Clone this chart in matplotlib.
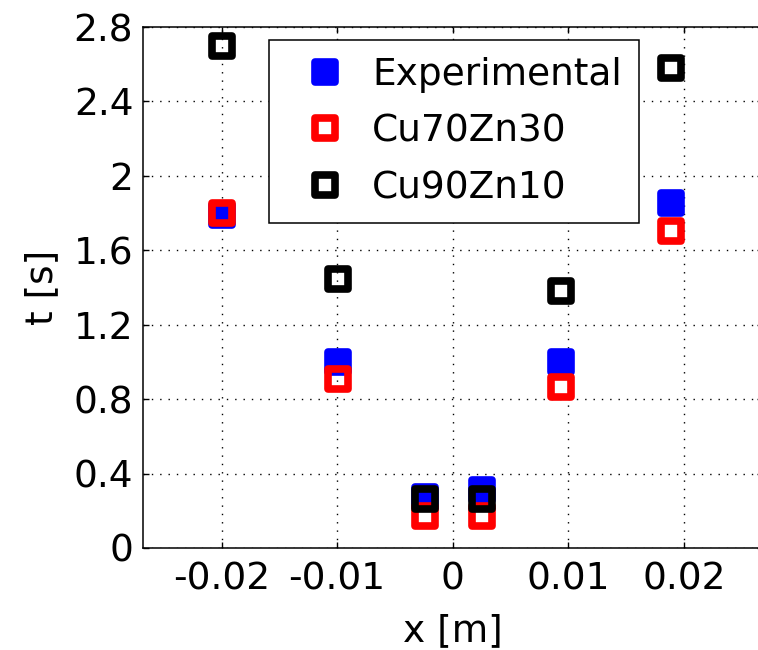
import matplotlib
matplotlib.use("Agg")
import matplotlib.pyplot as plt
from matplotlib.markers import MarkerStyle

plt.rcParams['font.family'] = ['DejaVu Sans']

x_pos = [-0.02, -0.0099, -0.0024, 0.0025, 0.0094, 0.0189]
t_experimental = [1.79, 1.00, 0.274, 0.312, 1.00, 1.854]
t_cu70zn30 = [1.80, 0.91, 0.172, 0.172, 0.865, 1.706]
t_cu90zn10 = [2.70, 1.448, 0.266, 0.266, 1.381, 2.577]

series_labels = ['Experimental', 'Cu70Zn30', 'Cu90Zn10']
x_ticks = [-0.02, -0.01, 0, 0.01, 0.02]
x_ticklabels = ['-0.02', '-0.01', '0', '0.01', '0.02']
y_ticks = [0, 0.4, 0.8, 1.2, 1.6, 2.0, 2.4, 2.8]
y_ticklabels = ['0', '0.4', '0.8', '1.2', '1.6', '2', '2.4', '2.8']

W, H = 758, 650
fig = plt.figure(figsize=(W / 100, H / 100), dpi=100)
ax = fig.add_axes([143 / W, 102 / H, (762.5 - 143) / W, 521 / H])

ms = 14.5
mew = 5.5
mk = MarkerStyle('s', joinstyle='round')

ax.plot(x_pos, t_experimental, linestyle='none', marker=mk, markersize=ms,
        markeredgewidth=mew, markerfacecolor='#0000ff', markeredgecolor='#0000ff',
        label=series_labels[0], zorder=3)
ax.plot(x_pos, t_cu70zn30, linestyle='none', marker=mk, markersize=ms,
        markeredgewidth=mew, markerfacecolor='none', markeredgecolor='#ff0000',
        label=series_labels[1], zorder=4)
ax.plot(x_pos, t_cu90zn10, linestyle='none', marker=mk, markersize=ms,
        markeredgewidth=mew, markerfacecolor='none', markeredgecolor='#000000',
        label=series_labels[2], zorder=5)

ax.set_xlim(-0.0268, 0.0268)
ax.set_ylim(0, 2.8)
ax.set_xticks(x_ticks)
ax.set_xticklabels(x_ticklabels)
ax.set_yticks(y_ticks)
ax.set_yticklabels(y_ticklabels)

fs = 27
ax.tick_params(direction='in', length=4.5, width=1.0, labelsize=fs,
               top=True, right=True)
ax.tick_params(axis='x', pad=10)
ax.tick_params(axis='y', pad=7)
ax.grid(True, color='black', linestyle=(0, (1, 5)), linewidth=1.0)
for s in ax.spines.values():
    s.set_linewidth(1.1)

ax.set_xlabel('x [m]', fontsize=fs, labelpad=11)
ax.set_ylabel('t [s]', fontsize=fs, labelpad=10)

leg = ax.legend(loc='upper left', bbox_to_anchor=(269 / W, 1 - 40 / H),
                bbox_transform=fig.transFigure, borderaxespad=0,
                fontsize=fs, frameon=True, fancybox=False, framealpha=1,
                edgecolor='black', borderpad=0.45, labelspacing=0.55,
                handlelength=2.1, handletextpad=0.2, numpoints=1)
leg.get_frame().set_linewidth(1.1)

fig.savefig('out.png', dpi=100)
